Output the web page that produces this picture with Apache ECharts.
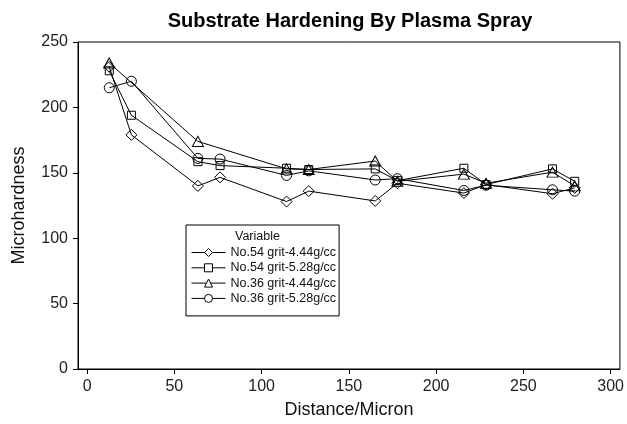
<!DOCTYPE html>
<html style="height: 100%">
<head>
    <meta charset="utf-8">
    <script type="text/javascript" src="https://cdn.jsdelivr.net/npm/echarts@6/dist/echarts.min.js"></script>
</head>
<body style="height: 100%; margin: 0">
<div id="container" style="width: 627px; height: 424px"></div>
<script type="text/javascript">
    // distance in micron (0.5 mil steps)
    var distance = [12.7, 25.4, 63.5, 76.2, 114.3, 127, 165.1, 177.8, 215.9, 228.6, 266.7, 279.4];
    var xTicks = [0, 50, 100, 150, 200, 250, 300];

    var seriesNames = ['No.54 grit-4.44g/cc', 'No.54 grit-5.28g/cc', 'No.36 grit-4.44g/cc', 'No.36 grit-5.28g/cc'];
    // null = no reading at that distance
    var no54_444 = [231, 179, 140, 146.5, 128, 136, 128.5, 142, 134.5, 141, 134, 138.5];
    var no54_528 = [228, 194, 158.5, 155.5, 153.5, 152.5, 153, 144, 153.5, 141, 153, 143.5];
    var no36_444 = [234, null, 174, null, 153, 152.5, 159, 143.5, 149, 142, 150.5, 140];
    var no36_528 = [215, 220, 161, 160.5, 148, 151.5, 144.5, 145.5, 136.5, 140.5, 137, 136];

    var symbols = ['diamond', 'rect', 'triangle', 'circle'];
    var symbolSizes = [[11, 11], 8, [11, 10], 10];

    function pairs(vals) {
        var out = [];
        for (var i = 0; i < distance.length; i++) {
            if (vals[i] != null) out.push([distance[i], vals[i]]);
        }
        return out;
    }

    var allValues = [no54_444, no54_528, no36_444, no36_528];
    var series = allValues.map(function (vals, i) {
        return {
            name: seriesNames[i],
            type: 'line',
            data: pairs(vals),
            symbol: symbols[i],
            symbolSize: symbolSizes[i],
            showAllSymbol: true,
            lineStyle: { color: '#000', width: 1 },
            itemStyle: { color: 'rgba(255,255,255,0)', borderColor: '#000', borderWidth: 1 },
            animation: false
        };
    });

    var myChart = echarts.init(document.getElementById('container'));
    var option = {
        backgroundColor: '#fff',
        animation: false,
        title: {
            text: 'Substrate Hardening By Plasma Spray',
            left: 345,
            textAlign: 'center',
            top: 6,
            textStyle: { fontFamily: 'Liberation Sans', fontSize: 20, fontWeight: 'bold', color: '#000' }
        },
        grid: { left: 78, right: 6, top: 42, bottom: 55, show: true, borderColor: '#000', borderWidth: 1 },
        xAxis: {
            type: 'value',
            min: -5.2,
            max: 305.3,
            name: 'Distance/Micron',
            nameLocation: 'middle',
            nameGap: 32,
            nameTextStyle: { fontFamily: 'Liberation Sans', fontSize: 18, color: '#111' },
            axisLine: { onZero: false, lineStyle: { color: '#000' } },
            axisTick: { show: true, length: 5, customValues: xTicks, lineStyle: { color: '#000' } },
            axisLabel: { customValues: xTicks, margin: 10, fontFamily: 'Liberation Sans', fontSize: 16, color: '#222' },
            splitLine: { show: false }
        },
        yAxis: {
            type: 'value',
            min: 0,
            max: 250,
            interval: 50,
            name: 'Microhardness',
            nameLocation: 'middle',
            nameGap: 50,
            nameTextStyle: { fontFamily: 'Liberation Sans', fontSize: 18, color: '#111' },
            axisLine: { show: true, onZero: false, lineStyle: { color: '#000' } },
            axisTick: { show: true, length: 5, lineStyle: { color: '#000' } },
            axisLabel: { margin: 10, fontFamily: 'Liberation Sans', fontSize: 16, color: '#222' },
            splitLine: { show: false }
        },
        legend: {
            orient: 'vertical',
            left: 186,
            top: 225,
            padding: [21, 3, 11, 5],
            itemGap: 2.3,
            itemWidth: 34,
            itemHeight: 10,
            borderColor: '#000',
            borderWidth: 1,
            itemStyle: { color: '#fff', borderColor: '#000', borderWidth: 1 },
            lineStyle: { color: '#000', width: 1 },
            textStyle: { fontFamily: 'Liberation Sans', fontSize: 12.5, color: '#111' },
            data: seriesNames
        },
        graphic: [{
            type: 'text',
            left: 235,
            top: 230,
            style: { text: 'Variable', fontFamily: 'Liberation Sans', fontSize: 12.5, fill: '#111' }
        }],
        series: series
    };
    myChart.setOption(option);
</script>
</body>
</html>
